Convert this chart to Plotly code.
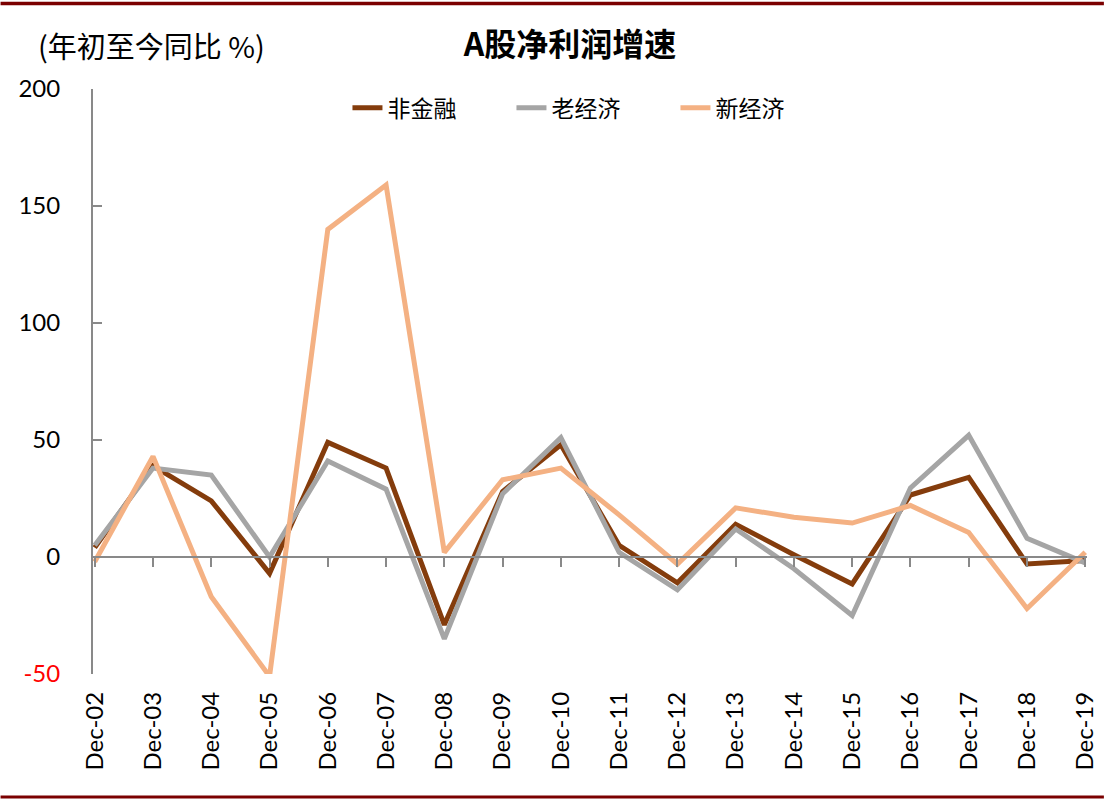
import plotly.graph_objects as go

# 年末数据，年初至今同比 %
categories = ["Dec-02", "Dec-03", "Dec-04", "Dec-05", "Dec-06", "Dec-07", "Dec-08",
              "Dec-09", "Dec-10", "Dec-11", "Dec-12", "Dec-13", "Dec-14", "Dec-15",
              "Dec-16", "Dec-17", "Dec-18", "Dec-19"]
non_fin = [4, 39, 24, -7, 49, 38, -29, 28, 48, 5, -11, 14, 1, -11.5, 26.5, 34, -3, -1.5]
old_econ = [5, 38, 35, 0, 41, 29, -35, 27, 51, 2, -14, 12, -5, -25, 29.5, 52, 8, -2.5]
new_econ = [-2, 43, -17, -51, 140, 159, 2, 33, 38, 18, -3, 21, 17, 14.5, 22, 10.5, -22, 2]
y_ticks = [-50, 0, 50, 100, 150, 200]
y_labels = ["<span style='color:red'>-50</span>", "0", "50", "100", "150", "200"]

_COLORS = {"non_fin": "#843C0C", "old": "#A5A5A5", "new": "#F4B183",
           "axis": "#898989", "border": "#7B0000"}
CJK = "Noto Sans CJK SC"
LATIN = "Lato, Open Sans, sans-serif"

idx = list(range(len(categories)))
fig = go.Figure()
for name, vals, key in (("非金融", non_fin, "non_fin"), ("老经济", old_econ, "old"),
                        ("新经济", new_econ, "new")):
    fig.add_trace(go.Scatter(x=idx, y=vals, name=name, mode="lines",
                             line=dict(color=_COLORS[key], width=5)))
# 用于在 0 轴上画刻度的辅助轴
fig.add_trace(go.Scatter(x=[idx[0], idx[-1]], y=[None, None], xaxis="x2",
                         showlegend=False, hoverinfo="skip"))

x_range = [-0.03, len(categories) - 1 + 0.03]
fig.update_layout(
    width=1110, height=801, margin=dict(l=93, r=17, t=89, b=127),
    paper_bgcolor="white", plot_bgcolor="white", showlegend=True,
    title=dict(text="<b>A股净利润增速</b>", x=0.48, xref="paper", xanchor="center",
               y=1 - 45 / 801, yref="container", yanchor="middle",
               font=dict(family=CJK, size=32, color="black")),
    legend=dict(orientation="h", x=0.256, xanchor="left", y=0.968, yanchor="middle",
                font=dict(family=CJK, size=23, color="black"),
                entrywidth=119, entrywidthmode="pixels", bgcolor="rgba(0,0,0,0)"),
    xaxis=dict(range=x_range, tickvals=idx, ticktext=categories, tickangle=-90,
               showline=False, showgrid=False, zeroline=False, ticks="",
               ticklabelstandoff=12,
               tickfont=dict(family=LATIN, size=24, color="black")),
    xaxis2=dict(range=x_range, overlaying="x", anchor="free", position=0.2,
                tickvals=idx, showticklabels=False, ticks="outside", ticklen=9,
                tickwidth=2, tickcolor=_COLORS["axis"], showline=True, linewidth=2,
                linecolor=_COLORS["axis"], showgrid=False, zeroline=False),
    yaxis=dict(range=[-50, 200], tickvals=y_ticks, ticktext=y_labels,
               showgrid=False, zeroline=False,
               showline=True, linewidth=2, linecolor=_COLORS["axis"],
               ticks="inside", ticklen=9, tickwidth=2, tickcolor=_COLORS["axis"],
               ticklabelstandoff=26,
               tickfont=dict(family=LATIN, size=24, color="black")),
    annotations=[dict(text="(年初至今同比 %)", xref="paper", yref="paper",
                      x=-0.057, xanchor="left", y=(674 - 45) / 585, yanchor="middle",
                      showarrow=False, font=dict(family=CJK, size=29, color="black"))],
    shapes=[dict(type="line", xref="paper", yref="paper", x0=-0.093, x1=1.017,
                 y0=(674 - 3.5) / 585, y1=(674 - 3.5) / 585,
                 line=dict(color=_COLORS["border"], width=3.5)),
            dict(type="line", xref="paper", yref="paper", x0=-0.093, x1=1.017,
                 y0=(674 - 797) / 585, y1=(674 - 797) / 585,
                 line=dict(color=_COLORS["border"], width=3))],
)

fig.write_html("out.html", config={"displayModeBar": False},
               post_script="document.body.style.margin='0px';")
